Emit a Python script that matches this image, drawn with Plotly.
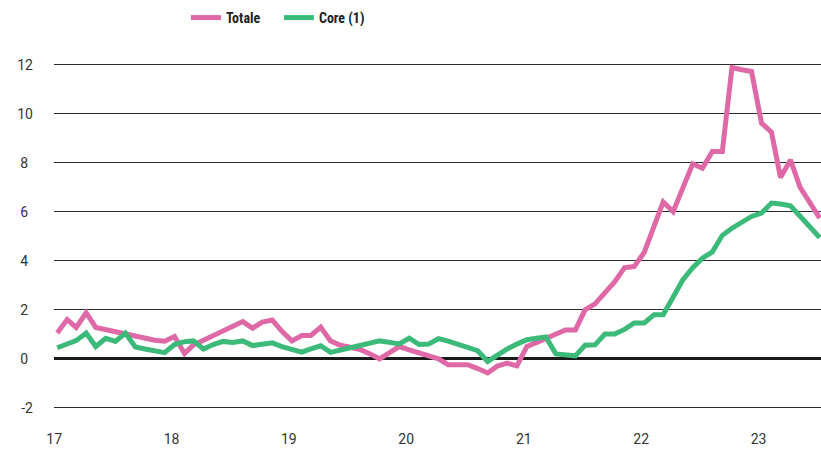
import pandas as pd
import plotly.graph_objects as go

months = pd.date_range("2017-01-01", periods=79, freq="MS")

totale = [1.05, 1.6, 1.28, 1.88, 1.28, 1.19, 1.10, 1.01, 0.93, 0.84,
          0.76, 0.72, 0.91, 0.22, 0.57, 0.76, 0.95, 1.14, 1.33, 1.52,
          1.25, 1.5, 1.58, 1.12, 0.73, 0.95, 0.95, 1.29, 0.73, 0.55,
          0.47, 0.38, 0.2, 0.0, 0.25, 0.5, 0.36, 0.23, 0.12, 0.0,
          -0.24, -0.24, -0.24, -0.4, -0.58, -0.3, -0.18, -0.29, 0.5, 0.67,
          0.84, 1.0, 1.18, 1.18, 2.0, 2.24, 2.69, 3.14, 3.72, 3.77,
          4.34, 5.48, 6.4, 6.01, 7.0, 7.96, 7.78, 8.46, 8.46, 11.89,
          11.8, 11.73, 9.62, 9.25, 7.4, 8.12, 7.0, 6.4, 5.74]

core = [0.45, 0.6, 0.74, 1.05, 0.5, 0.84, 0.71, 1.05, 0.48, 0.40,
        0.32, 0.25, 0.58, 0.7, 0.73, 0.4, 0.58, 0.71, 0.67, 0.73,
        0.54, 0.6, 0.65, 0.5, 0.38, 0.27, 0.4, 0.53, 0.26, 0.34,
        0.44, 0.54, 0.64, 0.73, 0.67, 0.61, 0.84, 0.58, 0.6, 0.82,
        0.72, 0.6, 0.48, 0.33, -0.11, 0.16, 0.4, 0.6, 0.78, 0.84,
        0.89, 0.2, 0.15, 0.12, 0.55, 0.57, 1.01, 1.01, 1.2, 1.46,
        1.46, 1.8, 1.8, 2.5, 3.22, 3.72, 4.11, 4.36, 5.04, 5.33,
        5.57, 5.81, 5.95, 6.36, 6.32, 6.25, 5.82, 5.38, 4.95]

year_ticks = ["2017-01-01", "2018-01-01", "2019-01-01", "2020-01-01",
              "2021-01-01", "2022-01-01", "2023-01-01"]
year_labels = ["17", "18", "19", "20", "21", "22", "23"]
y_ticks = [-2, 0, 2, 4, 6, 8, 10, 12]
# single-character labels get a narrow trailing space so they sit centred like the original
y_labels = [str(v) if len(str(v)) > 1 else str(v) + "\u2004" for v in y_ticks]

PINK = "#DF69A7"
GREEN = "#3BBA79"

fig = go.Figure()
fig.add_trace(go.Scatter(x=months, y=totale, mode="lines", name="Totale",
                         line=dict(color=PINK, width=5)))
fig.add_trace(go.Scatter(x=months, y=core, mode="lines", name="Core (1)",
                         line=dict(color=GREEN, width=5)))

fig.update_layout(
    width=821, height=450,
    margin=dict(l=54, r=0, t=58, b=41),
    plot_bgcolor="white", paper_bgcolor="white",
    font=dict(family="Roboto, sans-serif", size=14, color="#333333"),
    showlegend=True,
    legend=dict(orientation="h", x=0.172, xanchor="left", y=1.114, yanchor="middle",
                font=dict(family="Liberation Sans Narrow, Roboto Condensed, Roboto", size=14,
                          color="#222222", weight="bold"),
                entrywidth=48, entrywidthmode="pixels", bgcolor="rgba(0,0,0,0)"),
    xaxis=dict(type="date", range=["2016-12-22", "2023-07-05"],
               tickvals=year_ticks, ticktext=year_labels,
               showgrid=False, zeroline=False, showline=False, ticks="",
               ticklabelstandoff=20, ticklabelshift=-3,
               tickfont=dict(size=14, color="#333333")),
    yaxis=dict(range=[-2.05, 12.28], tickvals=y_ticks, ticktext=y_labels,
               showgrid=True, gridcolor="#2a2a2a", gridwidth=1,
               zeroline=True, zerolinecolor="#1a1a1a", zerolinewidth=3,
               showline=False, ticks="", ticklabelstandoff=20,
               tickfont=dict(size=14, color="#333333")),
)

fig.write_html("out.html")
